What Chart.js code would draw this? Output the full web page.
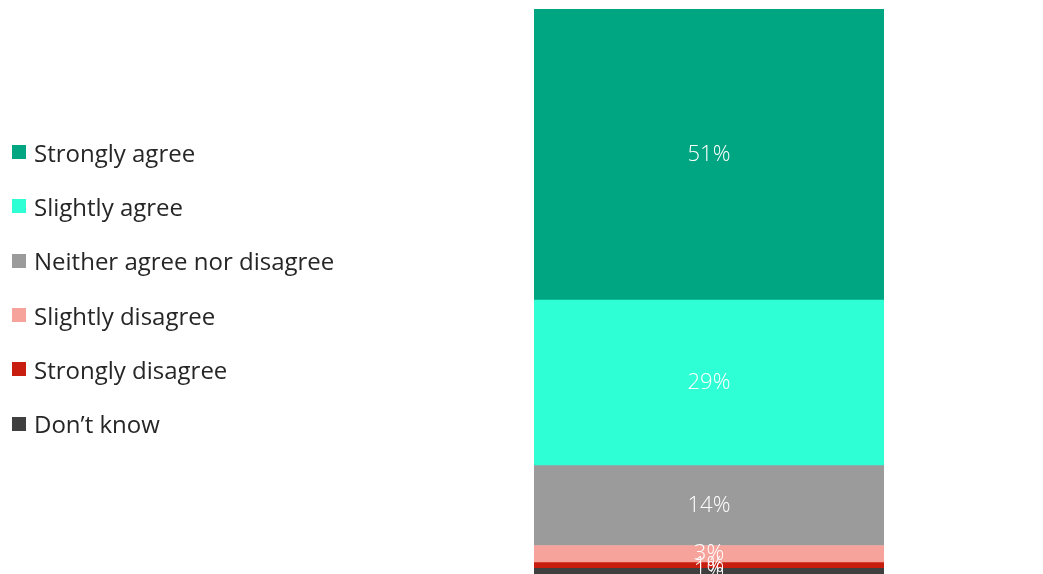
<!DOCTYPE html>
<html>
<head>
<meta charset="utf-8">
<script src="https://cdn.jsdelivr.net/npm/chart.js@4"></script>
<style>
  body { margin: 0; background: #fff; }
  #wrap { position: relative; width: 1043px; height: 574px; overflow: hidden; }
  #legend { position: absolute; left: 12px; top: 125px; font-family: "Open Sans", sans-serif; font-size: 24px; color: #262626; }
  .item { height: 54.3px; display: flex; align-items: center; }
  .box { width: 14px; height: 14px; margin-right: 8px; }
</style>
</head>
<body>
<div id="wrap">
  <canvas id="chart" width="1043" height="574"></canvas>
  <div id="legend"></div>
</div>
<script>
const categories = ["Strongly agree", "Slightly agree", "Neither agree nor disagree", "Slightly disagree", "Strongly disagree", "Don\u2019t know"];
const values = [51, 29, 14, 3, 1, 1];
const colors = ["#00a582", "#2effd5", "#9b9b9b", "#f6a39c", "#c81e0f", "#3f3f3f"];

let legend = document.getElementById('legend');
categories.forEach((name, i) => {
  legend.innerHTML += `<div class="item"><div class="box" style="background:${colors[i]}"></div>${name}</div>`;
});

// stack bottom-up, so go in reverse
let datasets = [];
for (let i = categories.length - 1; i >= 0; i--) {
  datasets.push({
    label: categories[i],
    data: [values[i]],
    backgroundColor: colors[i],
    borderWidth: 0,
    barPercentage: 1,
    categoryPercentage: 1
  });
}

const total = values.reduce((a, b) => a + b, 0);

new Chart(document.getElementById('chart'), {
  type: 'bar',
  data: { labels: [''], datasets: datasets },
  options: {
    responsive: false,
    animation: false,
    layout: { padding: { left: 534, right: 159, top: 9, bottom: 0 } },
    plugins: { legend: { display: false }, tooltip: { enabled: false } },
    scales: {
      x: { stacked: true, display: false },
      y: { stacked: true, display: false, min: 0, max: total }
    }
  },
  plugins: [{
    id: 'barLabels',
    afterDatasetsDraw: function (chart) {
      const ctx = chart.ctx;
      ctx.save();
      ctx.font = '300 22px "Open Sans", sans-serif';
      ctx.fillStyle = '#ffffff';
      ctx.textAlign = 'center';
      ctx.textBaseline = 'middle';
      chart.data.datasets.forEach((ds, i) => {
        const bar = chart.getDatasetMeta(i).data[0];
        const mid = (bar.y + bar.base) / 2;
        ctx.fillText(ds.data[0] + '%', bar.x, mid);
      });
      ctx.restore();
    }
  }]
});
</script>
</body>
</html>
